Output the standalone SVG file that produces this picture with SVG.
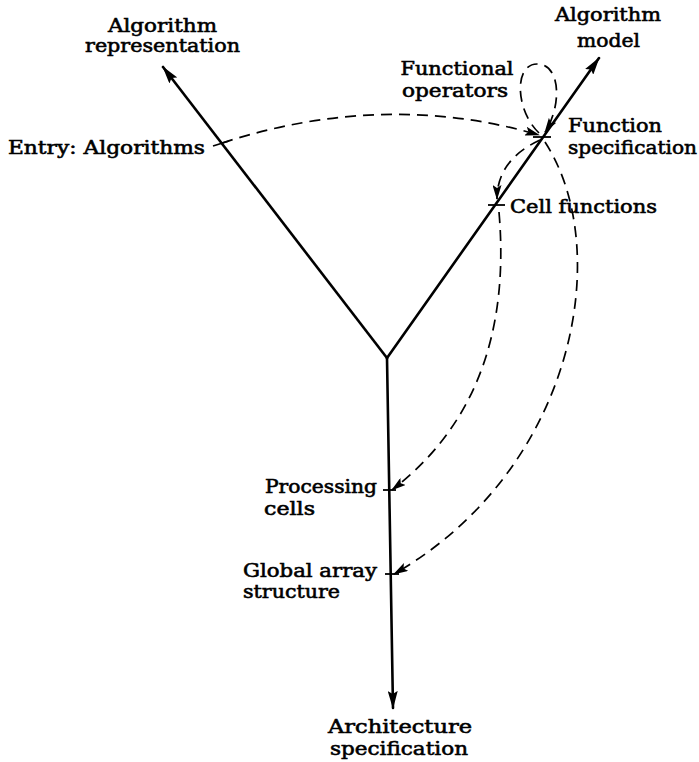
<svg xmlns="http://www.w3.org/2000/svg" width="699" height="762" viewBox="0 0 699 762">
  <style>
    .axis { fill: none; stroke: #000; stroke-width: 2.6; stroke-linecap: round; }
    .tick { fill: none; stroke: #000; stroke-width: 1.8; }
    .flow { fill: none; stroke: #000; stroke-width: 1.7; stroke-dasharray: 11 7; }
    .lbl { font-family: "DejaVu Serif", "Liberation Serif", serif; font-size: 19px; fill: #000; stroke: #000; stroke-width: 0.6; }
    .mid { text-anchor: middle; }
  </style>
  <defs>
    <marker id="headBig" markerUnits="userSpaceOnUse" viewBox="0 0 18 10" markerWidth="18" markerHeight="10" refX="17" refY="5" orient="auto">
      <path d="M0,0 L18,5 L0,10 L3,5 z" fill="#000"/>
    </marker>
    <marker id="headSmall" markerUnits="userSpaceOnUse" viewBox="0 0 15 9" markerWidth="15" markerHeight="9" refX="14" refY="4.5" orient="auto">
      <path d="M0,0 L15,4.5 L0,9 L3,4.5 z" fill="#000"/>
    </marker>
  </defs>

  <!-- the three axes of the Y chart -->
  <g id="axes">
    <line class="axis" x1="387" y1="358" x2="163" y2="67" marker-end="url(#headBig)"/>
    <line class="axis" x1="387" y1="358" x2="599" y2="58" marker-end="url(#headBig)"/>
    <line class="axis" x1="387" y1="358" x2="393" y2="708" marker-end="url(#headBig)"/>
  </g>

  <!-- axis labels -->
  <g id="algorithm-representation">
    <text class="lbl" x="108" y="32" textLength="109" lengthAdjust="spacingAndGlyphs">Algorithm</text>
    <text class="lbl" x="85" y="52" textLength="155" lengthAdjust="spacingAndGlyphs">representation</text>
  </g>
  <g id="algorithm-model">
    <text class="lbl" x="555" y="21" textLength="106" lengthAdjust="spacingAndGlyphs">Algorithm</text>
    <text class="lbl" x="577" y="47" textLength="63" lengthAdjust="spacingAndGlyphs">model</text>
  </g>
  <g id="architecture-specification">
    <text class="lbl" x="328" y="733" textLength="144" lengthAdjust="spacingAndGlyphs">Architecture</text>
    <text class="lbl" x="330" y="755" textLength="138" lengthAdjust="spacingAndGlyphs">specification</text>
  </g>

  <!-- stages on the axes -->
  <g id="entry-algorithms">
    <line class="tick" x1="213" y1="146" x2="229" y2="141"/>
    <text class="lbl" x="8" y="154" textLength="197" lengthAdjust="spacingAndGlyphs">Entry: Algorithms</text>
  </g>
  <g id="function-specification">
    <line class="tick" x1="533" y1="137" x2="551" y2="137"/>
    <text class="lbl" x="568" y="132" textLength="94" lengthAdjust="spacingAndGlyphs">Function</text>
    <text class="lbl" x="568" y="154" textLength="129" lengthAdjust="spacingAndGlyphs">specification</text>
  </g>
  <g id="functional-operators">
    <text class="lbl mid" x="457" y="75" textLength="113" lengthAdjust="spacingAndGlyphs">Functional</text>
    <text class="lbl mid" x="455" y="97" textLength="106" lengthAdjust="spacingAndGlyphs">operators</text>
  </g>
  <g id="cell-functions">
    <line class="tick" x1="488" y1="205" x2="505" y2="205"/>
    <text class="lbl" x="510" y="213" textLength="147" lengthAdjust="spacingAndGlyphs">Cell functions</text>
  </g>
  <g id="processing-cells">
    <line class="tick" x1="383" y1="490" x2="396" y2="490"/>
    <text class="lbl" x="265" y="493" textLength="112" lengthAdjust="spacingAndGlyphs">Processing</text>
    <text class="lbl" x="264" y="515" textLength="51" lengthAdjust="spacingAndGlyphs">cells</text>
  </g>
  <g id="global-array-structure">
    <line class="tick" x1="385" y1="574" x2="399" y2="574"/>
    <text class="lbl" x="243" y="577" textLength="134" lengthAdjust="spacingAndGlyphs">Global array</text>
    <text class="lbl" x="243" y="598" textLength="97" lengthAdjust="spacingAndGlyphs">structure</text>
  </g>

  <!-- dashed design-flow connectors -->
  <g id="connectors">
    <path class="flow" d="M222,143 Q385,90 539,135" marker-end="url(#headSmall)"/>
    <path class="flow" d="M539,133 C515,110 514,64 537,64 C561,64 562,106 545,132" marker-end="url(#headSmall)"/>
    <path class="flow" d="M540,140 Q497,160 497,199" marker-end="url(#headSmall)"/>
    <path class="flow" d="M499,212 C510,340 470,430 392,490" marker-end="url(#headSmall)"/>
    <path class="flow" d="M545,142 C615,250 575,470 394,574" marker-end="url(#headSmall)"/>
  </g>
</svg>
